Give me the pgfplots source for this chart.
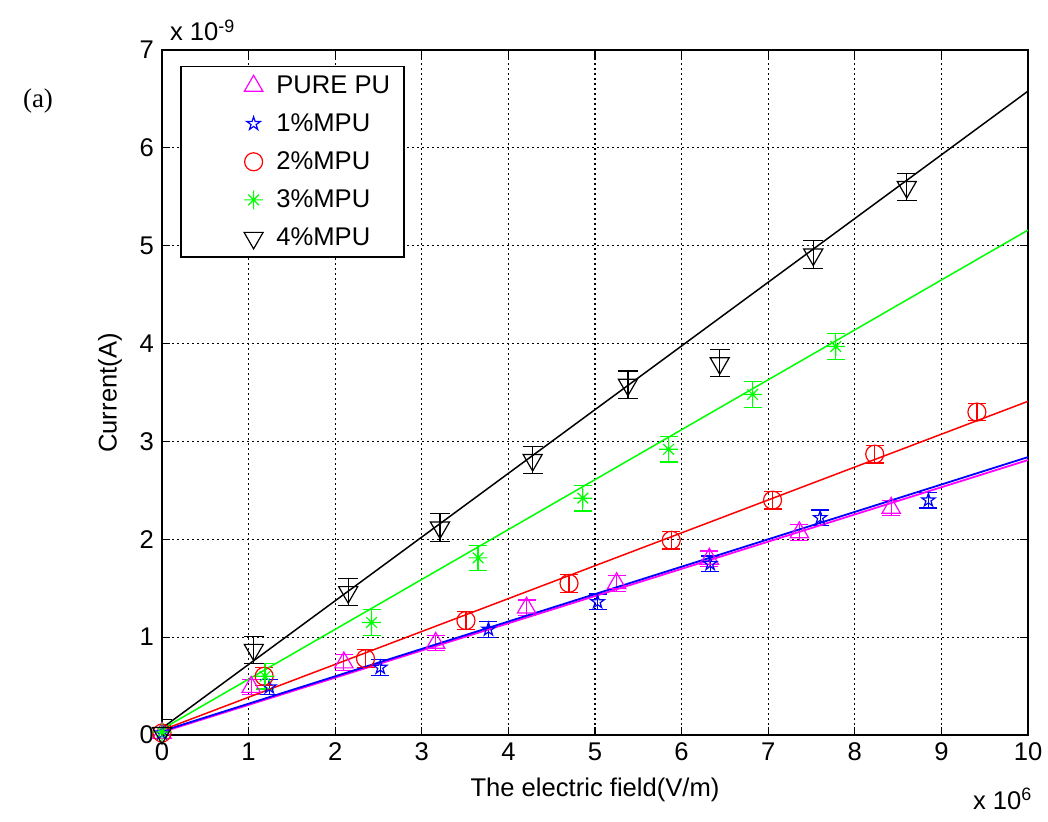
\documentclass[border=0pt]{standalone}
\usepackage{pgfplots}
\usepackage{pgfplotstable}
\pgfplotsset{compat=1.18}
\usepackage{fontspec}
\setmainfont{Liberation Sans}
\newfontfamily\serifa{Liberation Serif}
\definecolor{mmag}{rgb}{1,0,1}
\definecolor{mgreen}{rgb}{0,1,0}
\definecolor{mblue}{rgb}{0,0,1}
\definecolor{mred}{rgb}{1,0,0}

\pgfdeclareplotmark{pentagram}{%
  \pgfpathmoveto{\pgfpointpolar{90}{\pgfplotmarksize}}%
  \pgfpathlineto{\pgfpointpolar{126}{0.382\pgfplotmarksize}}%
  \pgfpathlineto{\pgfpointpolar{162}{\pgfplotmarksize}}%
  \pgfpathlineto{\pgfpointpolar{198}{0.382\pgfplotmarksize}}%
  \pgfpathlineto{\pgfpointpolar{234}{\pgfplotmarksize}}%
  \pgfpathlineto{\pgfpointpolar{270}{0.382\pgfplotmarksize}}%
  \pgfpathlineto{\pgfpointpolar{306}{\pgfplotmarksize}}%
  \pgfpathlineto{\pgfpointpolar{342}{0.382\pgfplotmarksize}}%
  \pgfpathlineto{\pgfpointpolar{18}{\pgfplotmarksize}}%
  \pgfpathlineto{\pgfpointpolar{54}{0.382\pgfplotmarksize}}%
  \pgfpathclose
  \pgfusepathqstroke
}
\pgfdeclareplotmark{ast8}{%
  \pgfpathmoveto{\pgfpointpolar{0}{\pgfplotmarksize}}\pgfpathlineto{\pgfpointpolar{180}{\pgfplotmarksize}}%
  \pgfpathmoveto{\pgfpointpolar{90}{\pgfplotmarksize}}\pgfpathlineto{\pgfpointpolar{270}{\pgfplotmarksize}}%
  \pgfpathmoveto{\pgfpointpolar{45}{0.8\pgfplotmarksize}}\pgfpathlineto{\pgfpointpolar{225}{0.8\pgfplotmarksize}}%
  \pgfpathmoveto{\pgfpointpolar{135}{0.8\pgfplotmarksize}}\pgfpathlineto{\pgfpointpolar{315}{0.8\pgfplotmarksize}}%
  \pgfusepathqstroke
}

\pgfplotstableread{
x y e
0 0.02 0.08
1.03 0.49 0.08
2.10 0.74 0.08
3.16 0.94 0.08
4.21 1.30 0.08
5.25 1.55 0.08
6.32 1.80 0.08
7.36 2.07 0.08
8.42 2.32 0.08
}\purepu
\pgfplotstableread{
x y e
0 0.02 0.08
1.24 0.49 0.08
2.52 0.69 0.08
3.77 1.08 0.08
5.03 1.36 0.08
6.33 1.75 0.08
7.60 2.22 0.08
8.85 2.40 0.08
}\mpua
\pgfplotstableread{
x y e
0 0.02 0.08
1.18 0.60 0.09
2.35 0.78 0.09
3.51 1.17 0.09
4.70 1.55 0.09
5.88 1.99 0.09
7.05 2.40 0.09
8.23 2.87 0.09
9.41 3.30 0.09
}\mpub
\pgfplotstableread{
x y e
0 0.03 0.13
1.19 0.60 0.13
2.42 1.15 0.13
3.65 1.81 0.13
4.86 2.42 0.13
5.85 2.92 0.13
6.82 3.48 0.13
7.78 3.97 0.13
}\mpuc
\pgfplotstableread{
x y e
0 0.02 0.14
1.06 0.87 0.14
2.15 1.46 0.14
3.21 2.12 0.14
4.28 2.81 0.14
5.38 3.58 0.14
6.44 3.80 0.14
7.52 4.91 0.14
8.60 5.60 0.14
}\mpud

\begin{document}
\begin{tikzpicture}
\begin{axis}[
  name=ax, scale only axis, width=433pt, height=342.5pt,
  xmin=0, xmax=10, ymin=0, ymax=7,
  xtick={0,1,...,10}, ytick={0,1,...,7},
  scaled ticks=false,
  grid=major,
  grid style={black, line width=0.6pt, dash pattern=on 1pt off 1.5pt},
  axis line style={black, line width=0.9pt},
  tick style={black, line width=0.6pt},
  major tick length=4pt, tick align=inside,
  tick label style={font=\fontsize{12.8}{14}\selectfont},
  /pgf/number format/assume math mode=true,
  xticklabel style={yshift=-0.5pt},
  yticklabel style={xshift=-0.5pt},
  legend style={at={(axis description cs:0.0208,0.977)}, anchor=north west,
    draw=black, line width=0.8pt, fill=white,
    font=\fontsize{12.8}{14}\selectfont,
    inner xsep=5pt, inner ysep=2.5pt, row sep=4.6pt,
    cells={anchor=west}},
  legend image code/.code={\path (-21pt,0pt) (19pt,0pt);
    \draw[#1] plot coordinates {(10pt,0pt)};},
  error bars/y dir=both, error bars/y explicit,
]
\addplot[mmag, only marks, mark=triangle, mark size=5.3pt,
  mark options={solid, line width=0.6pt, fill=none},
  error bars/error mark options={rotate=90, mark size=4.5pt, line width=0.6pt},
  error bars/error bar style={line width=0.6pt}]
  table[x=x, y=y, y error=e] {\purepu};
\addlegendentry{PURE PU}
\addplot[mblue, only marks, mark=pentagram, mark size=3.5pt,
  mark options={solid, line width=0.6pt, fill=none},
  error bars/error mark options={rotate=90, mark size=4.5pt, line width=0.6pt},
  error bars/error bar style={line width=0.6pt}]
  table[x=x, y=y, y error=e] {\mpua};
\addlegendentry{1\%MPU}
\addplot[mred, only marks, mark=o, mark size=4.5pt,
  mark options={solid, line width=0.6pt, fill=none},
  error bars/error mark options={rotate=90, mark size=4.5pt, line width=0.6pt},
  error bars/error bar style={line width=0.6pt}]
  table[x=x, y=y, y error=e] {\mpub};
\addlegendentry{2\%MPU}
\addplot[mgreen, only marks, mark=ast8, mark size=4.7pt,
  mark options={solid, line width=0.6pt, fill=none},
  error bars/error mark options={rotate=90, mark size=4.5pt, line width=0.6pt},
  error bars/error bar style={line width=0.6pt}]
  table[x=x, y=y, y error=e] {\mpuc};
\addlegendentry{3\%MPU}
\addplot[black, only marks, mark=triangle, mark size=5.5pt,
  mark options={solid, line width=0.6pt, fill=none, rotate=180},
  error bars/error mark options={rotate=90, mark size=5pt, line width=0.6pt},
  error bars/error bar style={line width=0.6pt}]
  table[x=x, y=y, y error=e] {\mpud};
\addlegendentry{4\%MPU}

\addplot[mmag, line width=0.9pt, no marks, forget plot, error bars/y dir=none] coordinates {(0,0.03) (10,2.81)};
\addplot[mblue, line width=0.9pt, no marks, forget plot, error bars/y dir=none] coordinates {(0,0.04) (10,2.84)};
\addplot[mred, line width=0.75pt, no marks, forget plot, error bars/y dir=none] coordinates {(0,0.05) (10,3.41)};
\addplot[mgreen, line width=0.75pt, no marks, forget plot, error bars/y dir=none] coordinates {(0,0.06) (10,5.16)};
\addplot[black, line width=0.75pt, no marks, forget plot, error bars/y dir=none] coordinates {(0,0.07) (10,6.58)};
\end{axis}
\node[anchor=base west, font=\fontsize{12.8}{14}\selectfont] at (0.5pt,347pt) {x 10\textsuperscript{-9}};
\node[anchor=base west, font=\fontsize{12.8}{14}\selectfont] at (402pt,-37pt) {x 10\textsuperscript{6}};
\node[font=\fontsize{12.8}{14}\selectfont] at (216.5pt,-27.5pt) {The electric field(V/m)};
\node[font=\fontsize{12.8}{14}\selectfont, rotate=90] at (-26pt,171pt) {Current(A)};
\node[font=\serifa\fontsize{13.5}{15}\selectfont] at (-62pt,317pt) {(a)};
\pgfresetboundingbox
\path[use as bounding box] (-81pt,-43pt) rectangle (443pt,367.5pt);
\end{tikzpicture}
\end{document}
